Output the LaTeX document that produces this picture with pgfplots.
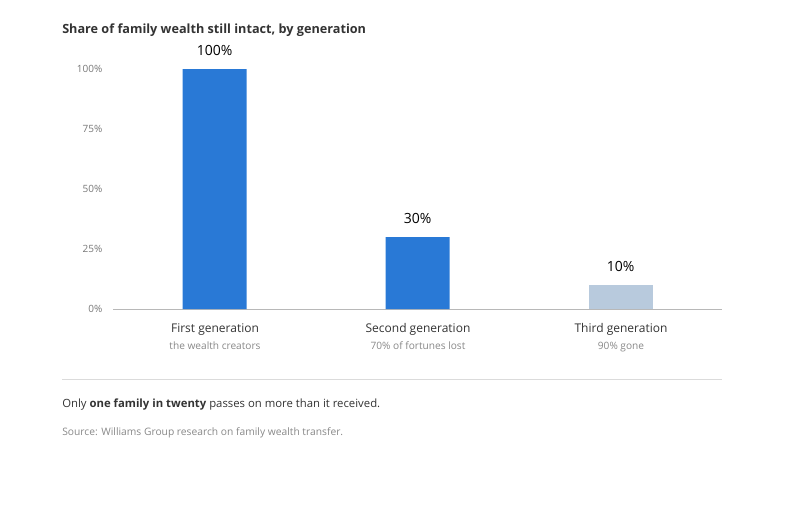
\documentclass[border=0pt]{standalone}
\usepackage{pgfplots}
\pgfplotsset{compat=1.18}
\usepackage{fontspec}
\setmainfont{Open Sans}
\definecolor{barblue}{HTML}{2979D6}
\definecolor{barlight}{HTML}{B8CADD}
\definecolor{titlec}{HTML}{333333}
\definecolor{tickc}{HTML}{777777}
\definecolor{subc}{HTML}{888888}
\definecolor{gridc}{HTML}{EEEEEE}
\begin{document}
\begin{tikzpicture}
\begin{axis}[
  at={(161.0pt,-231.75pt)}, anchor=origin,
  scale only axis, width=456.75pt, height=180pt,
  xmin=-0.5, xmax=2.5, ymin=0, ymax=100,
  axis y line=none, axis x line*=bottom,
  axis line style={draw=black!28, line width=0.75pt},
  x axis line style={-},
  ytick={0,25,50,75,100},
  ymajorgrids, grid style={draw=gridc, line width=0.6pt},
  xtick={0,1,2}, xticklabels={}, major tick length=0pt,
  clip=false,
]
\addplot[ybar, bar width=0.315, draw=none, fill=barblue] coordinates {(0,100) (1,30)};
\addplot[ybar, bar width=0.315, draw=none, fill=barlight] coordinates {(2,10)};
\node[anchor=east,font=\fontsize{7.5}{9}\selectfont,text=tickc,inner sep=0] at (axis cs:-0.5,0) [xshift=-8pt] {0\%};
\node[anchor=east,font=\fontsize{7.5}{9}\selectfont,text=tickc,inner sep=0] at (axis cs:-0.5,25) [xshift=-8pt] {25\%};
\node[anchor=east,font=\fontsize{7.5}{9}\selectfont,text=tickc,inner sep=0] at (axis cs:-0.5,50) [xshift=-8pt] {50\%};
\node[anchor=east,font=\fontsize{7.5}{9}\selectfont,text=tickc,inner sep=0] at (axis cs:-0.5,75) [xshift=-8pt] {75\%};
\node[anchor=east,font=\fontsize{7.5}{9}\selectfont,text=tickc,inner sep=0] at (axis cs:-0.5,100) [xshift=-8pt] {100\%};
\node[anchor=base,font=\fontsize{10.5}{12}\selectfont,inner sep=0] at (axis cs:0,100) [yshift=10pt] {100\%};
\node[anchor=base,font=\fontsize{10.5}{12}\selectfont,inner sep=0] at (axis cs:1,30) [yshift=10pt] {30\%};
\node[anchor=base,font=\fontsize{10.5}{12}\selectfont,inner sep=0] at (axis cs:2,10) [yshift=10pt] {10\%};
\end{axis}
\begin{scope}[x=0.75pt,y=-0.75pt]
\path (0,0) rectangle (801,512);
\node[anchor=base west,font=\fontsize{9.5}{11}\selectfont\bfseries,text=titlec,inner sep=0] at (62,33) {Share of family wealth still intact, by generation};
\foreach \cx/\a/\b in {215/First generation/the wealth creators,418/Second generation/70\% of fortunes lost,621/Third generation/90\% gone}{
  \node[anchor=base,font=\fontsize{9}{11}\selectfont,text=titlec,inner sep=0] at (\cx,332) {\a};
  \node[anchor=base,font=\fontsize{7.6}{9}\selectfont,text=subc,inner sep=0] at (\cx,349) {\b};
}
\draw[draw=black!14, line width=0.75pt] (62,379) -- (722,379);
\node[anchor=base west,font=\fontsize{8.5}{10}\selectfont,text=titlec,inner sep=0] at (62,407) {Only \textbf{one family in twenty} passes on more than it received.};
\node[anchor=base west,font=\fontsize{7.7}{9}\selectfont,text=subc,inner sep=0] at (62,435) {Source: Williams Group research on family wealth transfer.};
\end{scope}
\end{tikzpicture}
\end{document}
